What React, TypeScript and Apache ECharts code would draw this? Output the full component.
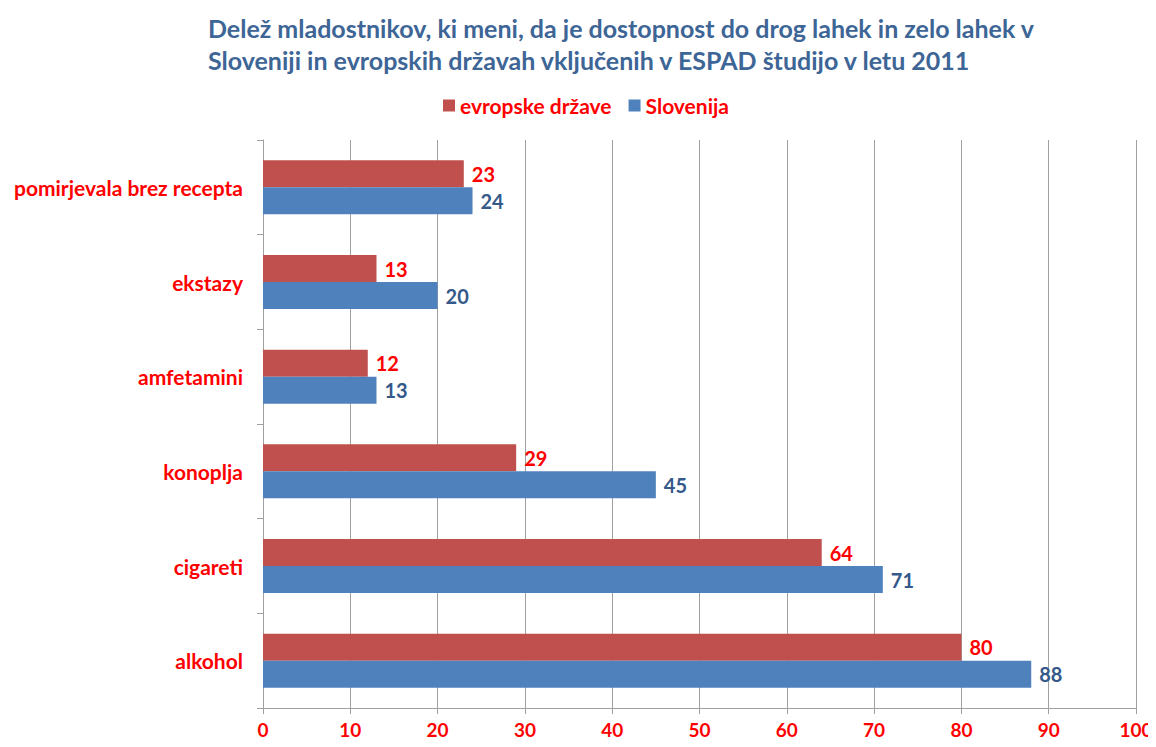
import React, { useEffect, useRef } from "react";
import * as echarts from "echarts";

const categories = ["alkohol", "cigareti", "konoplja", "amfetamini", "ekstazy", "pomirjevala brez recepta"];
const evropske = [80, 64, 29, 12, 13, 23];
const slovenija = [88, 71, 45, 13, 20, 24];
const seriesNames = ["evropske države", "Slovenija"];
const titleLines = [
  "Delež mladostnikov, ki meni, da je dostopnost do drog lahek in zelo lahek v",
  "Sloveniji in evropskih državah vključenih v ESPAD študijo v letu 2011",
];

const FONT = "Lato, 'Open Sans', sans-serif";
const RED = "#C0504D";
const BLUE = "#4F81BD";

export default function App() {
  const ref = useRef<HTMLDivElement>(null);
  useEffect(() => {
    const chart = echarts.init(ref.current!, null, { renderer: "svg" });
    chart.setOption({
      animation: false,
      backgroundColor: "#ffffff",
      title: {
        text: titleLines.join("\n"),
        left: 203,
        top: 7,
        textStyle: {
          color: "#3D6596",
          fontFamily: FONT,
          fontWeight: "bold",
          fontSize: 25,
          lineHeight: 32,
        },
      },
      legend: {
        data: seriesNames,
        left: 438,
        top: 90,
        itemWidth: 12,
        itemHeight: 12,
        itemGap: 17,
        icon: "rect",
        textStyle: { color: "#FF0000", fontFamily: FONT, fontWeight: "bold", fontSize: 21 },
      },
      grid: { left: 263, right: 20, top: 140, bottom: 39 },
      xAxis: {
        type: "value",
        min: 0,
        max: 100,
        interval: 10,
        axisLine: { show: true, lineStyle: { color: "#A0A0A0" } },
        axisTick: { show: true, length: 6, lineStyle: { color: "#A0A0A0" } },
        splitLine: { show: true, lineStyle: { color: "#A0A0A0" } },
        axisLabel: { color: "#FF0000", fontFamily: FONT, fontWeight: "bold", fontSize: 19, margin: 12 },
      },
      yAxis: {
        type: "category",
        data: categories,
        axisLine: { show: true, lineStyle: { color: "#A0A0A0" } },
        axisTick: { show: true, length: 6, lineStyle: { color: "#A0A0A0" } },
        axisLabel: { color: "#FF0000", fontFamily: FONT, fontWeight: "bold", fontSize: 21, margin: 20 },
      },
      series: [
        {
          name: seriesNames[0],
          type: "bar",
          data: evropske,
          barWidth: 27,
          barGap: "0%",
          itemStyle: { color: RED },
          label: { show: true, position: "right", color: "#FF0000", fontFamily: FONT, fontWeight: "bold", fontSize: 20, distance: 8 },
        },
        {
          name: seriesNames[1],
          type: "bar",
          data: slovenija,
          barWidth: 27,
          barGap: "0%",
          itemStyle: { color: BLUE },
          label: { show: true, position: "right", color: "#34598A", fontFamily: FONT, fontWeight: "bold", fontSize: 20, distance: 8 },
        },
      ],
    });
    return () => chart.dispose();
  }, []);
  return <div ref={ref} style={{ width: 1156, height: 747, margin: -8 }} />;
}
